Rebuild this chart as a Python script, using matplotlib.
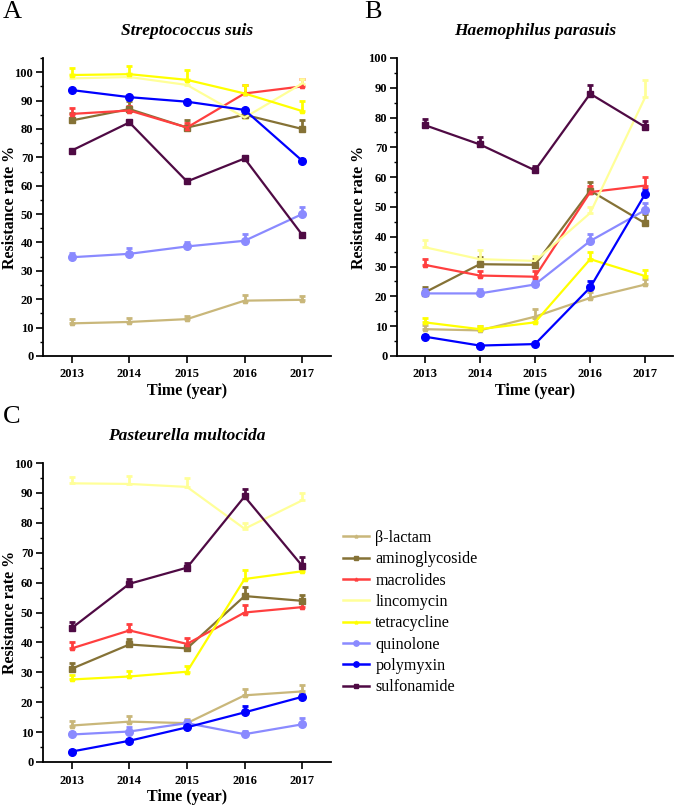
import numpy as np
import matplotlib
matplotlib.use("Agg")
import matplotlib.pyplot as plt
from matplotlib.lines import Line2D
from matplotlib.ticker import MultipleLocator

plt.rcParams['font.family'] = ['Liberation Serif', 'DejaVu Serif']

years = [2013, 2014, 2015, 2016, 2017]
drugs = ['β-lactam', 'aminoglycoside', 'macrolides', 'lincomycin',
         'tetracycline', 'quinolone', 'polymyxin', 'sulfonamide']

# resistance rate (%) per drug, panel A: Streptococcus suis
suis_vals = [
    [11.5, 12.0, 13.0, 19.5, 19.8],
    [83.0, 87.0, 80.5, 85.0, 80.0],
    [85.3, 86.5, 80.5, 92.5, 95.0],
    [97.8, 98.3, 95.5, 84.0, 96.0],
    [99.0, 99.3, 97.3, 92.5, 86.3],
    [34.8, 36.0, 38.6, 40.6, 50.0],
    [93.7, 91.2, 89.6, 86.7, 68.8],
    [72.4, 82.3, 61.5, 69.6, 42.7],
]
suis_err = [
    [1.5, 1.5, 1.0, 2.0, 1.5],
    [2.5, 3.0, 2.5, 2.0, 3.0],
    [2.0, 1.5, 1.5, 3.0, 2.5],
    [1.5, 1.5, 2.0, 2.0, 1.5],
    [2.5, 3.0, 3.5, 3.0, 3.5],
    [1.5, 2.0, 1.5, 2.5, 2.5],
    [0.5, 0.5, 0.5, 0.5, 0.5],
    [0.5, 0.5, 0.5, 0.5, 0.5],
]

# panel B: Haemophilus parasuis
para_vals = [
    [9.0, 8.6, 13.2, 19.5, 24.0],
    [21.3, 30.8, 30.6, 55.5, 44.5],
    [30.6, 27.0, 26.6, 55.0, 57.2],
    [36.5, 32.5, 31.9, 48.0, 87.0],
    [11.3, 9.0, 11.3, 32.5, 26.8],
    [21.0, 21.0, 24.0, 38.6, 49.0],
    [6.5, 3.5, 4.0, 23.0, 54.5],
    [77.5, 71.0, 62.3, 88.0, 76.8],
]
para_err = [
    [1.5, 1.5, 2.5, 2.0, 2.0],
    [2.0, 2.5, 2.0, 3.0, 3.0],
    [2.0, 1.5, 2.0, 2.0, 3.0],
    [2.5, 3.0, 1.5, 2.0, 5.5],
    [1.5, 1.0, 1.5, 2.5, 2.0],
    [1.5, 1.5, 1.5, 2.5, 2.5],
    [0.5, 0.5, 0.5, 2.0, 1.5],
    [2.0, 2.5, 1.5, 3.0, 2.0],
]

# panel C: Pasteurella multocida
mult_vals = [
    [12.2, 13.5, 13.0, 22.3, 23.6],
    [31.2, 39.3, 38.0, 55.5, 53.9],
    [38.0, 44.0, 39.5, 50.0, 51.8],
    [93.2, 93.0, 92.0, 78.0, 87.5],
    [27.6, 28.6, 30.2, 61.2, 63.8],
    [9.2, 10.2, 13.0, 9.3, 12.6],
    [3.5, 7.1, 11.6, 16.6, 21.8],
    [44.8, 59.6, 65.0, 88.8, 65.6],
]
mult_err = [
    [1.5, 2.0, 1.5, 2.0, 2.0],
    [2.0, 2.0, 1.5, 3.0, 2.0],
    [2.0, 2.0, 2.0, 2.5, 1.5],
    [2.0, 2.5, 3.0, 2.0, 2.5],
    [1.5, 2.0, 2.0, 3.0, 2.5],
    [1.0, 1.5, 1.0, 1.0, 2.0],
    [0.5, 0.5, 0.5, 2.0, 1.0],
    [2.0, 1.5, 1.5, 2.5, 3.0],
]

colors = ['#c9b77a', '#857236', '#ff3f3f', '#ffff99', '#ffff00',
          '#8a8aff', '#0000ff', '#4f0a44']
markers = ['^', 's', '^', None, '^', 'o', 'o', 's']
msizes = [3, 4, 3, 0, 3, 5.5, 5.5, 4]

fig = plt.figure(figsize=(6.85, 8.06), dpi=100)

W, H = 685.0, 806.0


def make_ax(left, top, right, bottom):
    return fig.add_axes([left / W, 1 - bottom / H, (right - left) / W, (bottom - top) / H])


def draw_panel(ax, vals, errs, title, ytop, ylab_x):
    for i in range(len(drugs)):
        v = np.array(vals[i])
        e = np.array(errs[i])
        ax.errorbar(years, v, yerr=[np.zeros_like(e), e], color=colors[i],
                    marker=markers[i], markersize=msizes[i], lw=1.6,
                    elinewidth=2.0, capsize=2.5, capthick=2.0)
    ax.set_xlim(2012.5, 2017.5)
    ax.set_ylim(0, ytop)
    ax.set_xticks(years)
    ax.set_yticks(np.arange(0, 101, 10))
    ax.yaxis.set_minor_locator(MultipleLocator(5))
    ax.spines['top'].set_visible(False)
    ax.spines['right'].set_visible(False)
    ax.spines['left'].set_linewidth(1.3)
    ax.spines['bottom'].set_linewidth(1.3)
    ax.tick_params(which='major', direction='out', length=5, width=1.2, labelsize=9, pad=2)
    ax.tick_params(which='minor', direction='out', length=2.5, width=1.0)
    ax.tick_params(axis='x', pad=4)
    for lab in ax.get_xticklabels() + ax.get_yticklabels():
        lab.set_fontweight('bold')
    ax.set_xlabel('Time (year)', fontsize=11.5, fontweight='bold', labelpad=2)
    ax.set_ylabel('Resistance rate %', fontsize=11.5, fontweight='bold')
    ax.yaxis.set_label_coords(ylab_x, 0.5)
    h = ax.get_position().height * H
    ax.text(0.5, 1 + 27.0 / h, title, transform=ax.transAxes, ha='center', va='center',
            fontsize=12.5, fontweight='bold', fontstyle='italic')


axA = make_ax(43, 58, 331, 356)
draw_panel(axA, suis_vals, suis_err, 'Streptococcus suis', 105, -0.088)
axB = make_ax(397, 58, 673, 356)
draw_panel(axB, para_vals, para_err, 'Haemophilus parasuis', 100, -0.108)
axC = make_ax(43, 463, 331, 762)
draw_panel(axC, mult_vals, mult_err, 'Pasteurella multocida', 100, -0.088)

fig.text(3 / W, 1 - 1 / H, 'A', fontsize=19, va='top', ha='left')
fig.text(364 / W, 1 - 1 / H, 'B', fontsize=19, va='top', ha='left')
fig.text(3 / W, 1 - 406 / H, 'C', fontsize=19, va='top', ha='left')

handles = [Line2D([], [], color=colors[i], marker=markers[i],
                  markersize=msizes[i] * 0.7, lw=1.8) for i in range(len(drugs))]
fig.legend(handles, drugs, loc='upper left', bbox_to_anchor=(343 / W, 1 - 530 / H),
           frameon=False, prop={'family': ['Liberation Serif', 'DejaVu Serif'], 'size': 11.6},
           borderpad=0, borderaxespad=0,
           handlelength=1.6, handletextpad=0.4, labelspacing=0.33)

fig.savefig('out.png', dpi=100)
